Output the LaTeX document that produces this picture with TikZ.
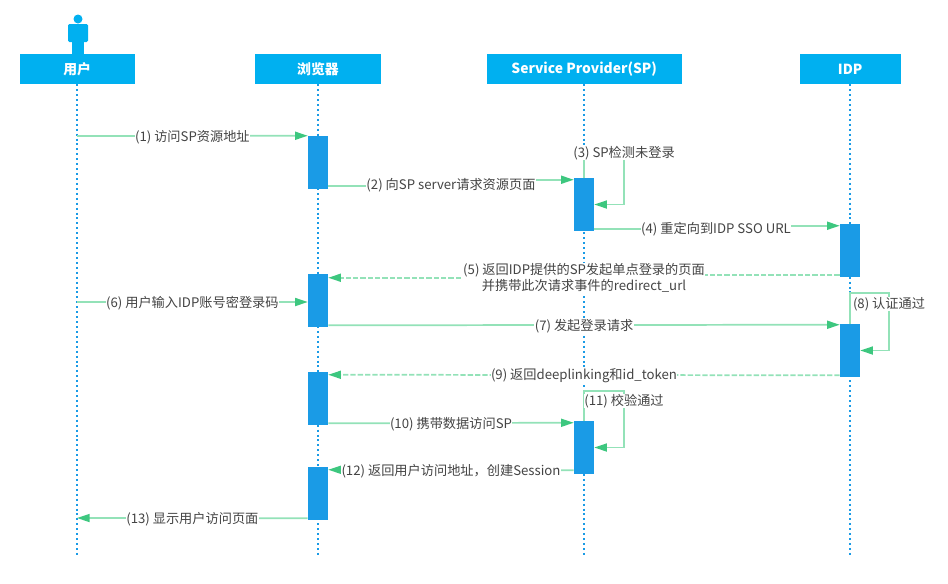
\documentclass[tikz,border=0pt]{standalone}
\usepackage{fontspec}
\setmainfont{Noto Sans CJK SC}
\usepackage{tikz}
\usetikzlibrary{arrows.meta}
\definecolor{headblue}{HTML}{00B0F0}
\definecolor{actblue}{HTML}{1A9BE6}
\definecolor{msggreen}{HTML}{93E2B8}
\definecolor{tipgreen}{HTML}{3DC77F}
\definecolor{msgtext}{HTML}{444444}
\tikzset{
	header/.style={fill=headblue,text=white,font=\bfseries\fontsize{10.4}{12}\selectfont,minimum height=22.5pt,inner sep=0pt},
	life/.style={actblue,line width=1.5pt,dash pattern=on 1.5pt off 2.2pt},
	actbar/.style={fill=actblue,minimum width=15pt,minimum height=39.75pt,inner sep=0pt},
	msg/.style={msggreen,line width=1.3pt,-{Triangle[length=9.5pt,width=6pt,color=tipgreen]}},
	msgback/.style={msg,dash pattern=on 4pt off 1.5pt},
	lab/.style={fill=white,text=msgtext,font=\fontsize{9.9}{11.5}\selectfont,inner sep=0.3pt,align=center,yshift=-0.75pt}
}
\begin{document}
\begin{tikzpicture}[x=0.75pt,y=-0.75pt]
	\useasboundingbox (0,0) rectangle (948,583);
	% actor
	\fill[headblue] (78,19) circle (4.5);
	\fill[headblue,rounded corners=1pt] (68,24) rectangle (88,42);
	\fill[headblue] (72,40) rectangle (84,54);
	% lifelines
	\foreach \name/\txt/\px/\boxw in {user/用户/77.2/86.25,browser/浏览器/318/94.5,sp/Service Provider(SP)/584.2/146.25,idp/IDP/850.2/75.75} {
		\node (\name) at (\px,69) [header,minimum width=\boxw pt] {\txt};
		\draw[life] (\name.south) -- ++(0,471);
	}
	% activation bars
	\foreach \name/\px/\py in {b1/318/162.5,s1/584/204.5,i1/850/250.5,b2/318/300.5,i2/850/350.5,b3/318/398.5,s2/584/447.5,b4/318/493.5} {
		\node (\name) at (\px,\py) [actbar] {};
	}
	% free ends on the user lifeline
	\coordinate (u1) at (77,136);
	\coordinate (u6) at (77,302);
	\coordinate (u13) at (77,518);
	% bends behind the labels
	\coordinate (m2) at (451,184);
	\coordinate (m4) at (716,228);
	\coordinate (m5) at (584,277);
	% corners of the self messages
	\coordinate (c3) at (624,152);
	\coordinate (c8) at (889,293);
	\coordinate (c11) at (624,391);
	% messages
	\draw[msg] (u1) -- node[lab] {(1) 访问SP资源地址} (b1.north west);
	\draw[msg] ([yshift=2.25pt]b1.south east) -| (m2) node[lab] {(2) 向SP server请求资源页面} |- ([yshift=-1.5pt]s1.north west);
	\draw[msg] (s1.north) |- (c3) |- (s1.east);
	\node (l3) at (624,152) [lab] {(3) SP检测未登录};
	\draw[msg] ([yshift=1.5pt]s1.south east) -| (m4) node[lab] {(4) 重定向到IDP SSO URL} |- ([yshift=-1.5pt]i1.north west);
	\draw[msgback] ([yshift=1.5pt]i1.south west) -| (m5) node[lab] {(5) 返回IDP提供的SP发起单点登录的页面\\并携带此次请求事件的redirect\_url} |- ([yshift=-3pt]b2.north east);
	\draw[msg] (u6) -- node[lab] {(6) 用户输入IDP账号密登录码} (b2.west|-u6);
	\draw[msg] ([yshift=1.5pt]b2.south east) -- node[lab] {(7) 发起登录请求} ([yshift=-0.75pt]i2.north west);
	\draw[msg] (i2.north) |- (c8) |- (i2.east);
	\node (l8) at (889,303) [lab] {(8) 认证通过};
	\draw[msgback] ([yshift=1.5pt]i2.south west) -- node[lab] {(9) 返回deeplinking和id\_token} ([yshift=-2.25pt]b3.north east);
	\draw[msg] ([yshift=1.5pt]b3.south east) -- node[lab] {(10) 携带数据访问SP} ([yshift=-1.5pt]s2.north west);
	\draw[msg] (s2.north) |- (c11) |- (s2.east);
	\node (l11) at (624,400) [lab] {(11) 校验通过};
	\draw[msg] ([yshift=3pt]s2.south west) -- node[lab] {(12) 返回用户访问地址，创建Session} ([yshift=-2.25pt]b4.north east);
	\draw[msg] ([yshift=1.5pt]b4.south west) -- node[lab] {(13) 显示用户访问页面} (u13);
\end{tikzpicture}
\end{document}
